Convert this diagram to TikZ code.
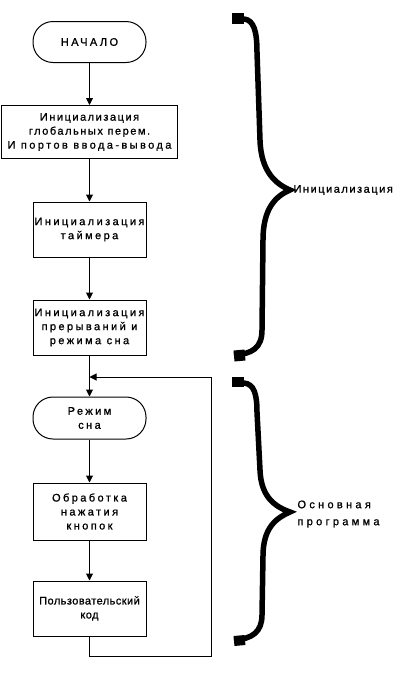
\documentclass[tikz,border=0pt]{standalone}
\usepackage{fontspec}
\setmainfont{Liberation Sans}
\newfontfamily\spc{Liberation Sans}[LetterSpace=22, FakeBold=1]
\newfontfamily\mdsp{Liberation Sans}[LetterSpace=14, FakeBold=1]
\newfontfamily\wdsp{Liberation Sans}[LetterSpace=30, FakeBold=1]
\newfontfamily\tgt{Liberation Sans}[LetterSpace=4, FakeBold=1]
\usetikzlibrary{arrows.meta}

\begin{document}
\begin{tikzpicture}[x=1pt, y=-1pt, >={Triangle[length=7pt,width=7pt]}, line width=1pt,
    blk/.style={draw, minimum width=113pt, minimum height=55pt, align=center, inner sep=1pt,
        font=\spc\fontsize{11}{14}\selectfont},
    term/.style={draw, rounded corners=20pt, minimum width=113pt, minimum height=41pt, align=center,
        font=\spc\fontsize{11}{14}\selectfont},
    brc/.style={line width=5.5pt},
    lbl/.style={align=left, anchor=west, inner sep=0pt, font=\wdsp\fontsize{11}{17}\selectfont}]
    \useasboundingbox (0,0) rectangle (400,689);

    % Initialisation part
    \node[term] (start) at (89.5,42) {НАЧАЛО};
    \node[blk, minimum width=176pt, minimum height=53pt] (glob) at (89.5,132)
        {{\mdsp Инициализация}\\{\mdsp глобальных перем.}\\И портов ввода-вывода};
    \node[blk] (tmr) at (89.5,229.5) {Инициализация\\таймера};
    \node[blk] (irq) at (89.5,327.5) {Инициализация\\прерываний и\\режима сна};

    % Main loop
    \node[term, minimum height=42pt] (sleep) at (89.5,418) {Режим\\сна};
    \node[blk, minimum height=57pt] (keys) at (89.5,511.5) {Обработка\\нажатия\\кнопок};
    \node[blk, font=\tgt\fontsize{11}{14}\selectfont] (user) at (89.5,608.5) {Пользовательский\\код};

    \coordinate (join) at (89.5,377);
    \coordinate (lpB) at (211,656);
    \coordinate (lpT) at (211,377);

    % Connections
    \draw[->] (start) -- (glob);
    \draw[->] (glob) -- (tmr);
    \draw[->] (tmr) -- (irq);
    \draw[->] (irq) -- (sleep);
    \draw[->] (sleep) -- (keys);
    \draw[->] (keys) -- (user);
    \draw[->] (user.south) |- (lpB) -- (lpT) -- (join);

    % Braces
    \draw[brc] (232,19) -- (244,19) .. controls (254,20) and (257,32) .. (257,52)
        -- (260,140) .. controls (261,172) and (276,184) .. (290,190)
        .. controls (276,196) and (263,208) .. (263,240)
        -- (262,330) .. controls (262,348) and (252,354) .. (234,355);
    \draw[line width=11pt] (232,18) -- (244,18);
    \draw[line width=11pt] (234,356) -- (245,355);
    \node[lbl, font=\mdsp\fontsize{11}{14}\selectfont] (ini) at (293,190) {Инициализация};

    \draw[brc] (232,383) -- (244,383) .. controls (254,384) and (257,394) .. (257,412)
        -- (260,470) .. controls (261,498) and (276,507) .. (290,512)
        .. controls (276,518) and (263,528) .. (263,556)
        -- (262,615) .. controls (262,632) and (252,639) .. (234,640);
    \draw[line width=10pt] (232,382) -- (244,382);
    \draw[line width=10pt] (234,641) -- (245,640);
    \node[lbl] (mainp) at (297,514) {Основная\\программа};
\end{tikzpicture}
\end{document}
